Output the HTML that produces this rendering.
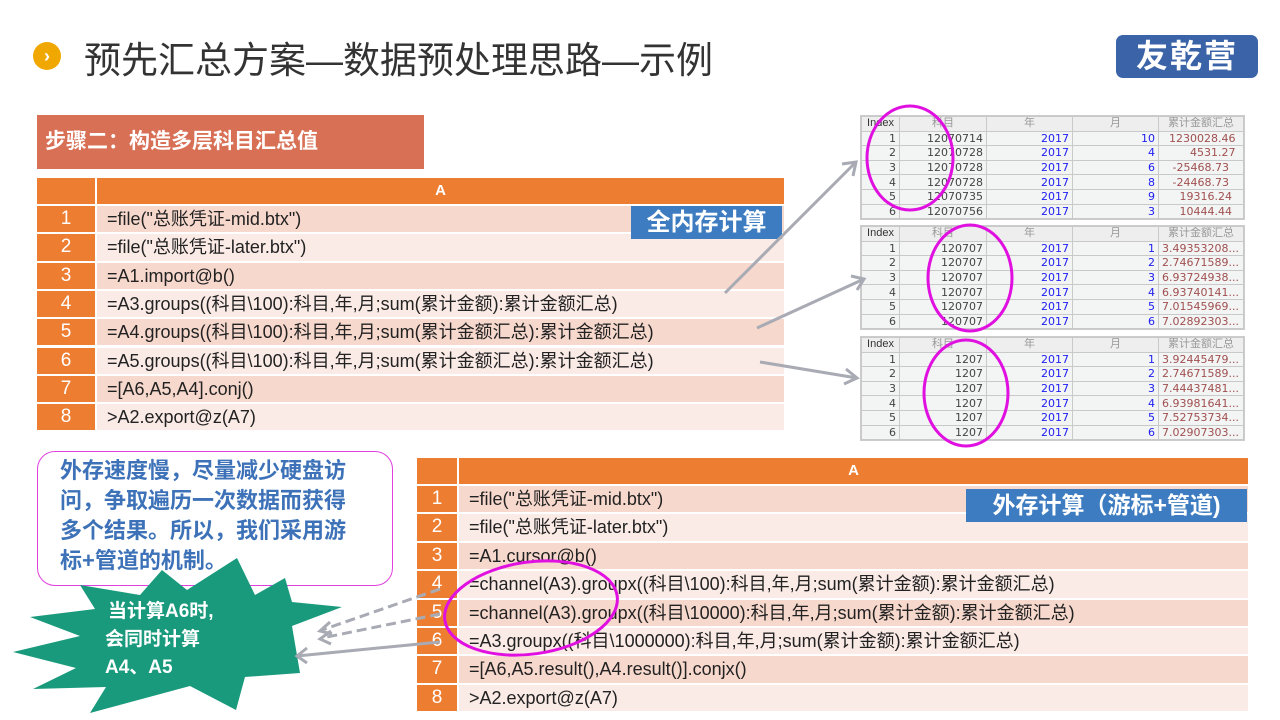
<!DOCTYPE html>
<html><head><meta charset="utf-8">
<style>
*{margin:0;padding:0;box-sizing:border-box}
body{width:1280px;height:720px;background:#fff;position:relative;overflow:hidden;font-family:"Liberation Sans","Noto Sans CJK SC",sans-serif}
.abs{position:absolute}
.tbl div{position:absolute}
.num{background:#ed7d31;color:#fff;text-align:center;font-size:19px}
.cell{font-size:18px;color:#222;padding-left:10px;white-space:nowrap;overflow:hidden}
.odd{background:#f7d8cd}.even{background:#fbebe6}
.rt{position:absolute;background:#f3f4f4;font-size:12px;border:1px solid #ccc}
.rt table{border-collapse:collapse;width:100%;table-layout:fixed}
.rt td{border:1px solid #c9c9c9;height:14.6px;padding:0 3px;line-height:13px;text-align:right;overflow:hidden;white-space:nowrap;font-family:"DejaVu Sans","Noto Sans CJK SC",sans-serif;font-size:11px}
.rt tr:first-child td{text-align:center;color:#999;background:#eee;font-family:"Liberation Sans","Noto Sans CJK SC",sans-serif}
.rt tr:first-child td:first-child{color:#333}
.b{color:#2020f0}.r{color:#a05050}.g{color:#444}
</style></head><body>
<div class="abs" style="left:33px;top:42px;width:28px;height:28px;border-radius:50%;background:#f0a800;color:#fff;font-size:18px;font-weight:bold;text-align:center;line-height:28px">›</div>
<div class="abs" style="left:84px;top:30px;font-size:37px;color:#333;white-space:nowrap">预先汇总方案—数据预处理思路—示例</div>
<div class="abs" style="left:1116px;top:35px;width:142px;height:43px;background:#3b64a8;border-radius:7px;color:#fff;font-size:32px;font-weight:bold;text-align:center;line-height:43px;letter-spacing:2px">友乾营</div>

<div class="abs" style="left:37px;top:115px;width:387px;height:54px;background:#d87055;color:#fff;font-size:21px;font-weight:bold;line-height:54px;padding-left:8px">步骤二：构造多层科目汇总值</div>

<div class="tbl">
<div class="num" style="left:37px;top:178px;width:58px;height:26px"></div>
<div class="num" style="left:97px;top:178px;width:687px;height:26px;line-height:26px;font-weight:bold;font-size:15px">A</div>
</div>
<div id="t1" class="tbl"></div>
<div class="abs" style="left:631px;top:206px;width:151px;height:33px;background:#3d7cc0;color:#fff;font-size:24px;font-weight:bold;text-align:center;line-height:33px">全内存计算</div>

<div class="tbl">
<div class="num" style="left:417px;top:458px;width:40px;height:26px"></div>
<div class="num" style="left:459px;top:458px;width:789px;height:26px;line-height:26px;font-weight:bold;font-size:15px">A</div>
</div>
<div id="t2" class="tbl"></div>
<div class="abs" style="left:966px;top:489px;width:281px;height:33px;background:#3d7cc0;color:#fff;font-size:23px;font-weight:bold;text-align:center;line-height:33px">外存计算（游标+管道)</div>

<div class="rt" style="left:860px;top:115px;width:385px"><table id="r1"></table></div>
<div class="rt" style="left:860px;top:225px;width:385px"><table id="r2"></table></div>
<div class="rt" style="left:860px;top:336px;width:385px"><table id="r3"></table></div>

<div class="abs" style="left:37px;top:451px;width:356px;height:135px;border:1px solid #e040e0;border-radius:18px;background:#fff;color:#3d72b8;font-size:22px;font-weight:bold;line-height:30px;padding:4px 0 0 22px;white-space:nowrap">外存速度慢，尽量减少硬盘访<br>问，争取遍历一次数据而获得<br>多个结果。所以，我们采用游<br>标+管道的机制。</div>

<svg class="abs" style="left:0;top:0" width="1280" height="720">
<polygon fill="#1a9a7c" points="237,558 255,595 285,578 292,602 342,607 292,626 300,673 245,677 236,710 190,686 90,713 106,687 33,689 76,668 13,652 80,636 30,617 95,609 80,585 140,595 162,570 187,590"/>
<text x="108" y="617" fill="#fff" font-size="19" font-weight="bold" font-family="Liberation Sans,Noto Sans CJK SC,sans-serif">当计算A6时,</text>
<text x="105" y="645" fill="#fff" font-size="19" font-weight="bold" font-family="Liberation Sans,Noto Sans CJK SC,sans-serif">会同时计算</text>
<text x="105" y="673" fill="#fff" font-size="19" font-weight="bold" font-family="Liberation Sans,Noto Sans CJK SC,sans-serif">A4、A5</text>
<g stroke="#a8aab4" stroke-width="3" fill="none">
<line x1="725" y1="293" x2="856" y2="162"/><polyline points="842,164 856,162 853,176"/>
<line x1="757" y1="328" x2="864" y2="279"/><polyline points="851,276 864,279 857,290"/>
<line x1="760" y1="362" x2="857" y2="378"/><polyline points="846,369 857,378 844,384"/>
<line x1="440" y1="589" x2="322" y2="630" stroke-dasharray="10,5"/><polyline points="330,622 320,631 332,634"/>
<line x1="440" y1="614" x2="322" y2="638" stroke-dasharray="10,5"/><polyline points="331,631 320,639 331,644"/>
<line x1="440" y1="642" x2="297" y2="656"/><polyline points="307,648 297,656 307,663"/>
</g>
<g stroke="#e010e0" stroke-width="3" fill="none">
<ellipse cx="910" cy="158" rx="43" ry="52"/>
<ellipse cx="970" cy="278" rx="42" ry="53"/>
<ellipse cx="966" cy="393" rx="42" ry="53"/>
<ellipse cx="531" cy="608" rx="87" ry="46" transform="rotate(-8 531 608)"/>
</g>
</svg>

<script>
function rows(id,l,nw,cw,top,h,arr){
 var s='';arr.forEach(function(t,i){var y=top+i*h;var c=i%2?'even':'odd';
 s+='<div class="num" style="left:'+l+'px;top:'+y+'px;width:'+nw+'px;height:'+(h-2)+'px;line-height:'+(h-2)+'px">'+(i+1)+'</div>';
 s+='<div class="cell '+c+'" style="left:'+(l+nw+2)+'px;top:'+y+'px;width:'+cw+'px;height:'+(h-2)+'px;line-height:'+(h-2)+'px">'+t+'</div>';});
 document.getElementById(id).innerHTML=s;}
rows('t1',37,58,687,206,28.3,['=file("总账凭证-mid.btx")','=file("总账凭证-later.btx")','=A1.import@b()','=A3.groups((科目\\100):科目,年,月;sum(累计金额):累计金额汇总)','=A4.groups((科目\\100):科目,年,月;sum(累计金额汇总):累计金额汇总)','=A5.groups((科目\\100):科目,年,月;sum(累计金额汇总):累计金额汇总)','=[A6,A5,A4].conj()','&gt;A2.export@z(A7)']);
rows('t2',417,40,789,486,28.4,['=file("总账凭证-mid.btx")','=file("总账凭证-later.btx")','=A1.cursor@b()','=channel(A3).groupx((科目\\100):科目,年,月;sum(累计金额):累计金额汇总)','=channel(A3).groupx((科目\\10000):科目,年,月;sum(累计金额):累计金额汇总)','=A3.groupx((科目\\1000000):科目,年,月;sum(累计金额):累计金额汇总)','=[A6,A5.result(),A4.result()].conjx()','&gt;A2.export@z(A7)']);
function rt(id,k,m,v){var s='<tr><td style="width:38px">Index</td><td style="width:87px">科目</td><td style="width:86px">年</td><td style="width:86px">月</td><td>累计金额汇总</td></tr>';
 for(var i=0;i<6;i++)s+='<tr><td class="g">'+(i+1)+'</td><td class="g">'+k[i]+'</td><td class="b">2017</td><td class="b">'+m[i]+'</td><td class="r" style="text-align:left">'+v[i]+'</td></tr>';
 document.getElementById(id).innerHTML=s;}
rt('r1',['12070714','12070728','12070728','12070728','12070735','12070756'],[10,4,6,8,9,3],['&nbsp;&nbsp;1230028.46','&nbsp;&nbsp;&nbsp;&nbsp;&nbsp;&nbsp;&nbsp;&nbsp;4531.27','&nbsp;&nbsp;&nbsp;-25468.73','&nbsp;&nbsp;&nbsp;-24468.73','&nbsp;&nbsp;&nbsp;&nbsp;&nbsp;19316.24','&nbsp;&nbsp;&nbsp;&nbsp;&nbsp;10444.44']);
rt('r2',['120707','120707','120707','120707','120707','120707'],[1,2,3,4,5,6],['3.49353208...','2.74671589...','6.93724938...','6.93740141...','7.01545969...','7.02892303...']);
rt('r3',['1207','1207','1207','1207','1207','1207'],[1,2,3,4,5,6],['3.92445479...','2.74671589...','7.44437481...','6.93981641...','7.52753734...','7.02907303...']);
</script>
</body></html>
